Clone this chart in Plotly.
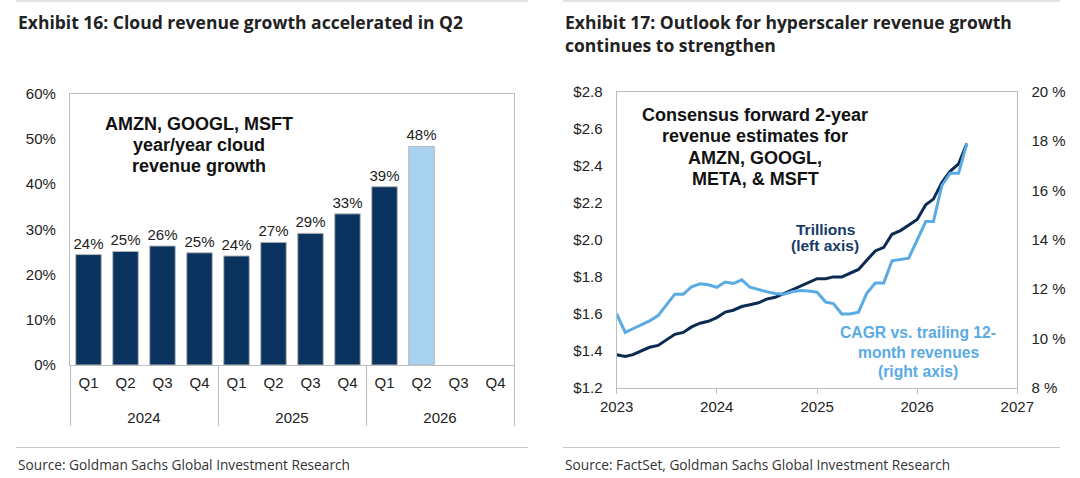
import plotly.graph_objects as go
import pandas as pd

# ---------------- data: Exhibit 16 ----------------
bar_years = ["2024", "2024", "2024", "2024", "2025", "2025", "2025", "2025",
             "2026", "2026", "2026", "2026"]
bar_quarters = ["Q1", "Q2", "Q3", "Q4", "Q1", "Q2", "Q3", "Q4",
                "Q1", "Q2", "Q3", "Q4"]
cloud_growth = [24.4, 25.1, 26.3, 24.8, 24.1, 27.1, 29.1, 33.4, 39.4, 48.3, None, None]
highlight_bar = ("2026", "Q2")

# ---------------- data: Exhibit 17 ----------------
line_start = "2023-01-01"
rev_trillions = [1.38, 1.37, 1.38, 1.40, 1.42, 1.43, 1.46, 1.49, 1.50, 1.53, 1.55, 1.56,
                 1.58, 1.61, 1.62, 1.64, 1.65, 1.66, 1.68, 1.69, 1.71, 1.73, 1.75, 1.77,
                 1.79, 1.79, 1.80, 1.80, 1.82, 1.84, 1.89, 1.94, 1.96, 2.03, 2.05, 2.08,
                 2.11, 2.19, 2.22, 2.31, 2.37, 2.41, 2.52]
cagr_pct = [11.0, 10.25, 10.4, 10.55, 10.72, 10.93, 11.37, 11.8, 11.8, 12.1, 12.22, 12.18,
            12.08, 12.29, 12.23, 12.38, 12.08, 11.98, 11.9, 11.83, 11.8, 11.9, 11.95, 11.93,
            11.88, 11.48, 11.42, 11.0, 11.0, 11.07, 11.84, 12.25, 12.25, 13.15, 13.2, 13.26,
            14.0, 14.74, 14.74, 16.2, 16.7, 16.7, 17.9]
line_dates = pd.date_range(line_start, periods=len(rev_trillions), freq="MS")

# ---------------- styles ----------------
W, H = 1080, 478
DARK = "#0A345F"
LIGHT_BAR = "#A9D1F0"
DARK_LINE = "#0B2B52"
LIGHT_LINE = "#5AAAE3"
FRAME = "#BDBDBD"
RULE = "#C8C8C8"
SANS = "Liberation Sans, Arial, sans-serif"
HUM = "Open Sans, Noto Sans, sans-serif"


def px(x):
    return x / W


def py(y):
    return 1 - y / H


bar_colors = [LIGHT_BAR if (yr, q) == highlight_bar else DARK
              for yr, q in zip(bar_years, bar_quarters)]
bar_text = ["" if v is None else f"{round(v)}%" for v in cloud_growth]
# lower the year row a little under the quarter row (blank first line)
year_row = ["<br>" + yr for yr in bar_years]

fig = go.Figure()

fig.add_trace(go.Bar(
    x=[year_row, bar_quarters], y=cloud_growth,
    text=bar_text, textposition="outside", cliponaxis=False, constraintext="none",
    textfont=dict(family=SANS, size=15, color="#222"),
    marker=dict(color=bar_colors, line=dict(color="#B8B8B8", width=1)),
    width=0.69, xaxis="x", yaxis="y", showlegend=False, hoverinfo="skip",
))

fig.add_trace(go.Scatter(
    x=line_dates, y=rev_trillions, mode="lines",
    line=dict(color=DARK_LINE, width=3), xaxis="x2", yaxis="y2",
    showlegend=False, hoverinfo="skip",
))
fig.add_trace(go.Scatter(
    x=line_dates, y=cagr_pct, mode="lines",
    line=dict(color=LIGHT_LINE, width=3), xaxis="x2", yaxis="y3",
    showlegend=False, hoverinfo="skip",
))

tickfont = dict(family=SANS, size=15, color="#222")

fig.update_layout(
    width=W, height=H,
    margin=dict(l=0, r=0, t=0, b=0, autoexpand=False),
    paper_bgcolor="white", plot_bgcolor="white",
    xaxis=dict(
        domain=[px(70), px(514)], anchor="y", type="multicategory",
        automargin=False,
        showline=True, linecolor=FRAME, linewidth=1.3, mirror=True,
        showgrid=False, tickfont=tickfont, ticks="", ticklabelstandoff=4,
        showdividers=True, dividercolor=FRAME, dividerwidth=1.3,
    ),
    yaxis=dict(
        domain=[py(365), py(93.5)], anchor="x", range=[0, 60], dtick=10,
        automargin=False,
        ticksuffix="%", showgrid=False, zeroline=False,
        showline=True, linecolor=FRAME, linewidth=1.3, mirror=True,
        tickfont=tickfont, ticklabelstandoff=10,
    ),
    xaxis2=dict(
        domain=[px(616.7), px(1017.3)], anchor="y2", type="date",
        automargin=False,
        range=["2023-01-01", "2027-01-01"], dtick="M12", tickformat="%Y",
        tick0="2023-01-01",
        showline=True, linecolor=FRAME, linewidth=1.3, mirror=True,
        showgrid=False, ticks="outside", ticklen=5, tickcolor=FRAME,
        tickfont=tickfont,
    ),
    yaxis2=dict(
        domain=[py(388), py(91.7)], anchor="x2", range=[1.2, 2.8], dtick=0.2,
        automargin=False,
        tickprefix="$", tickformat=".1f", showgrid=False, zeroline=False,
        showline=True, linecolor=FRAME, linewidth=1.3,
        tickfont=tickfont, ticklabelstandoff=10,
    ),
    yaxis3=dict(
        overlaying="y2", anchor="x2", side="right", range=[8, 20], dtick=2,
        automargin=False,
        ticksuffix=" %", showgrid=False, zeroline=False,
        showline=True, linecolor=FRAME, linewidth=1.3,
        tickfont=tickfont, ticklabelstandoff=10,
    ),
)

ann = []


def add_text(text, x, y, size, color, family, anchor="left", bold=False):
    t = f"<b>{text}</b>" if bold else text
    ann.append(dict(x=px(x), y=py(y), xref="paper", yref="paper", xanchor=anchor,
                    yanchor="middle", showarrow=False, text=t,
                    font=dict(family=family, size=size, color=color)))


# titles
add_text("Exhibit 16: Cloud revenue growth accelerated in Q2", 16, 22, 17.5, "#222", HUM, bold=True)
add_text("Exhibit 17: Outlook for hyperscaler revenue growth", 563, 22, 17.5, "#222", HUM, bold=True)
add_text("continues to strengthen", 563, 45, 17.5, "#222", HUM, bold=True)
# sources
add_text("Source: Goldman Sachs Global Investment Research", 16, 464, 13.7, "#333", HUM)
add_text("Source: FactSet, Goldman Sachs Global Investment Research", 563, 464, 13.7, "#333", HUM)

# in-chart labels
for t, y in zip(["AMZN, GOOGL, MSFT", "year/year cloud", "revenue growth"], [124, 145, 166]):
    add_text(t, 199, y, 18, "#111", SANS, anchor="center", bold=True)
for t, y in zip(["Consensus forward 2-year", "revenue estimates for", "AMZN, GOOGL,",
                 "META, &amp; MSFT"], [114.5, 135.5, 157.5, 179]):
    add_text(t, 755, y, 18, "#111", SANS, anchor="center", bold=True)
for t, y in zip(["Trillions", "(left axis)"], [229, 246]):
    add_text(t, 825, y, 15.5, "#173A66", SANS, anchor="center", bold=True)
for t, y in zip(["CAGR vs. trailing 12-", "month revenues", "(right axis)"], [332, 352, 371]):
    add_text(t, 918, y, 15.7, LIGHT_LINE, SANS, anchor="center", bold=True)

shapes = []
for x0, x1 in [(16, 528), (563, 1060)]:
    shapes.append(dict(type="line", xref="paper", yref="paper",
                       x0=px(x0), x1=px(x1), y0=py(1), y1=py(1),
                       line=dict(color=RULE, width=1.2)))
    shapes.append(dict(type="line", xref="paper", yref="paper",
                       x0=px(x0), x1=px(x1), y0=py(447.5), y1=py(447.5),
                       line=dict(color=RULE, width=1.2)))

fig.update_layout(annotations=ann, shapes=shapes)

fig.write_html(
    "out.html",
    config={"displayModeBar": False},
    post_script="document.body.style.margin='0px';document.body.style.overflow='hidden';",
)
